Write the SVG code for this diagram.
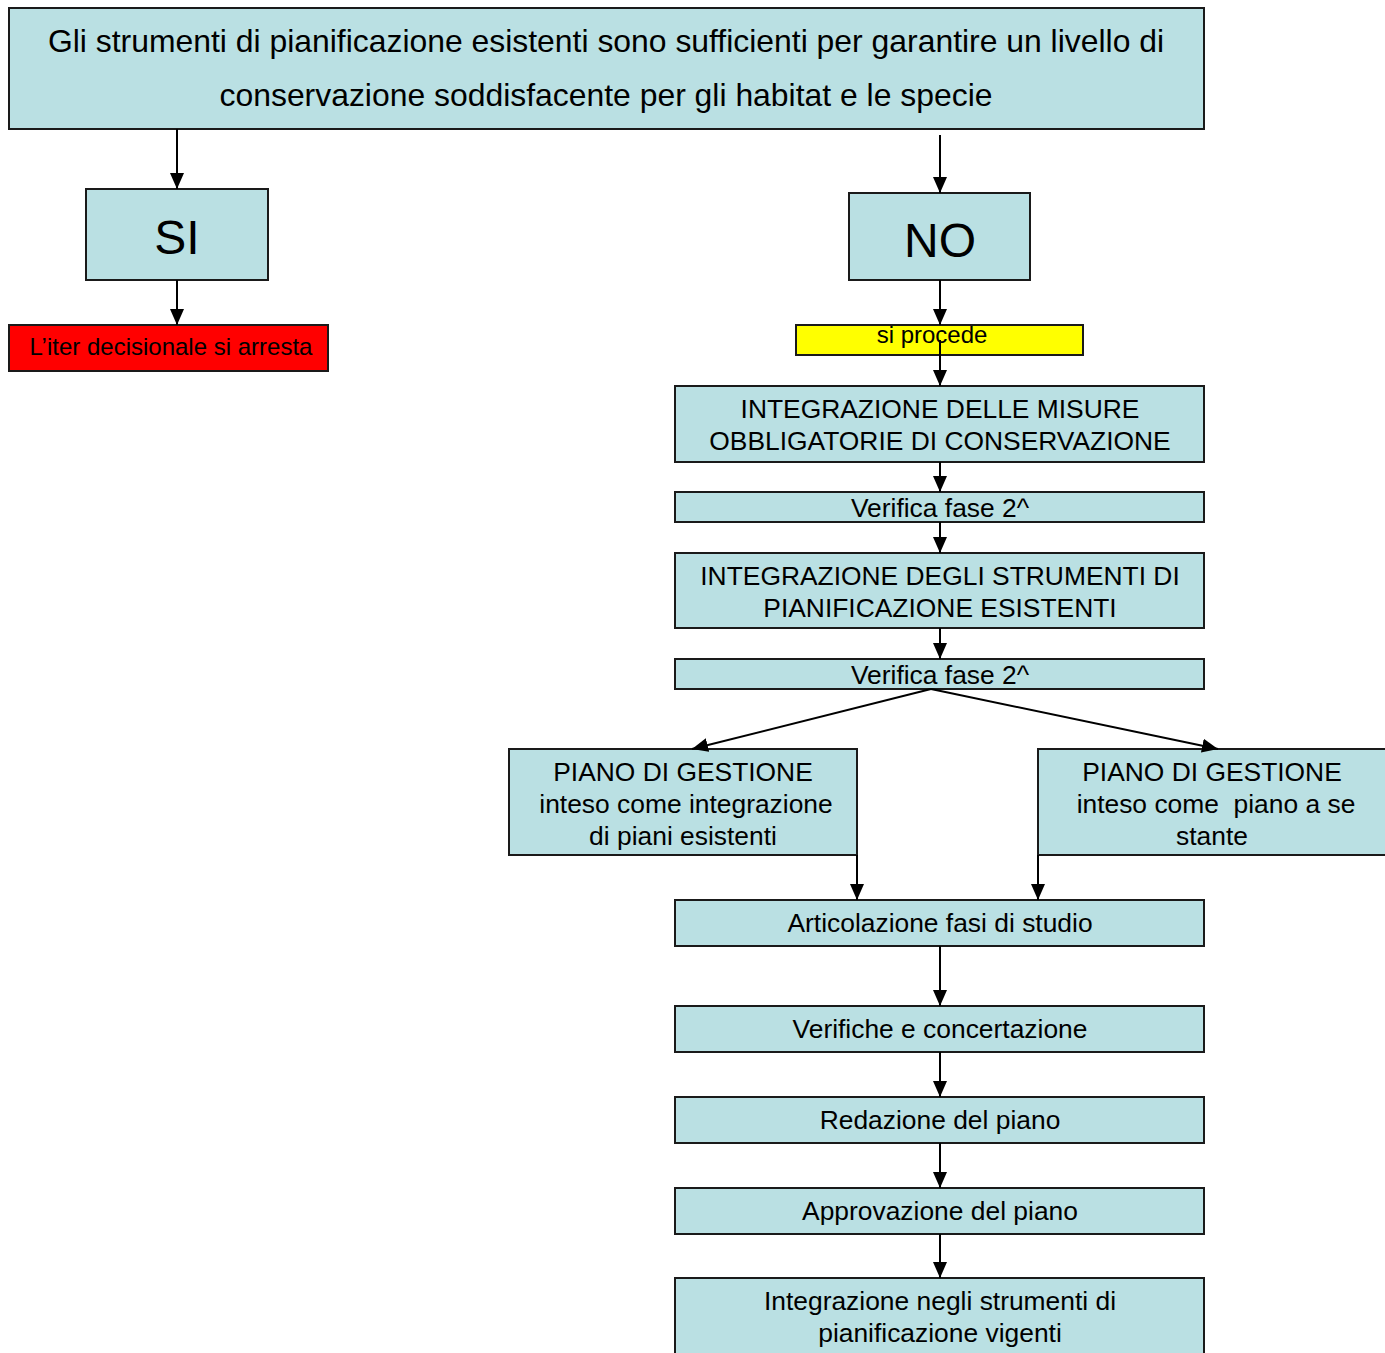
<svg xmlns="http://www.w3.org/2000/svg" width="1385" height="1353" viewBox="0 0 1385 1353">
<style>
.b{fill:#bae0e3;stroke:#1a1a1a;stroke-width:2}
.t{font-family:"Liberation Sans",Arial,sans-serif;fill:#000;text-anchor:middle;font-size:26.4px}
.c line{stroke:#000;stroke-width:2;marker-end:url(#ah)}
</style>
<defs>
<marker id="ah" markerUnits="userSpaceOnUse" markerWidth="16" markerHeight="16" viewBox="0 0 16 16" refX="16" refY="8" orient="auto">
<path d="M0,1 L16,8 L0,15 Z" fill="#000"/>
</marker>
</defs>
<rect width="1385" height="1353" fill="#fff"/>
<g id="top"><rect class="b" x="9" y="8" width="1195" height="121"/>
<text class="t" x="606" y="52" style="font-size:31.9px">Gli strumenti di pianificazione esistenti sono sufficienti per garantire un livello di</text>
<text class="t" x="606" y="106" style="font-size:31.9px">conservazione soddisfacente per gli habitat e le specie</text></g>
<g id="si"><rect class="b" x="86" y="189" width="182" height="91"/><text class="t" x="177" y="254" style="font-size:48px">SI</text></g>
<g id="stop"><rect x="9" y="325" width="319" height="46" fill="#ff0000" stroke="#1a1a1a" stroke-width="2"/><text class="t" x="171" y="355" style="font-size:24px">L’iter decisionale si arresta</text></g>
<g id="no"><rect class="b" x="849" y="193" width="181" height="87"/><text class="t" x="940" y="257" style="font-size:48px">NO</text></g>
<g id="procede"><rect x="796" y="325" width="287" height="30" fill="#ffff00" stroke="#1a1a1a" stroke-width="2"/><text class="t" x="932" y="343" style="font-size:24px">si procede</text></g>
<g id="misure"><rect class="b" x="675" y="386" width="529" height="76"/>
<text class="t" x="940" y="418">INTEGRAZIONE DELLE MISURE</text>
<text class="t" x="940" y="450">OBBLIGATORIE DI CONSERVAZIONE</text></g>
<g id="verifica1"><rect class="b" x="675" y="492" width="529" height="30"/><text class="t" x="940" y="517">Verifica fase 2^</text></g>
<g id="strumenti"><rect class="b" x="675" y="553" width="529" height="75"/>
<text class="t" x="940" y="585">INTEGRAZIONE DEGLI STRUMENTI DI</text>
<text class="t" x="940" y="617">PIANIFICAZIONE ESISTENTI</text></g>
<g id="verifica2"><rect class="b" x="675" y="659" width="529" height="30"/><text class="t" x="940" y="684">Verifica fase 2^</text></g>
<g id="pianoA"><rect class="b" x="509" y="749" width="348" height="106"/>
<text class="t" x="683" y="781">PIANO DI GESTIONE</text>
<text class="t" x="686" y="813">inteso come integrazione</text>
<text class="t" x="683" y="845">di piani esistenti</text></g>
<g id="pianoB"><rect class="b" x="1038" y="749" width="352" height="106"/>
<text class="t" x="1212" y="781">PIANO DI GESTIONE</text>
<text class="t" x="1216" y="813" xml:space="preserve">inteso come  piano a se</text>
<text class="t" x="1212" y="845">stante</text></g>
<g id="articolazione"><rect class="b" x="675" y="900" width="529" height="46"/><text class="t" x="940" y="932">Articolazione fasi di studio</text></g>
<g id="verifiche"><rect class="b" x="675" y="1006" width="529" height="46"/><text class="t" x="940" y="1038">Verifiche e concertazione</text></g>
<g id="redazione"><rect class="b" x="675" y="1097" width="529" height="46"/><text class="t" x="940" y="1129">Redazione del piano</text></g>
<g id="approvazione"><rect class="b" x="675" y="1188" width="529" height="46"/><text class="t" x="940" y="1220">Approvazione del piano</text></g>
<g id="integrazione"><rect class="b" x="675" y="1278" width="529" height="90"/>
<text class="t" x="940" y="1310">Integrazione negli strumenti di</text>
<text class="t" x="940" y="1342">pianificazione vigenti</text></g>
<g class="c" id="connectors">
<line x1="177" y1="129" x2="177" y2="189"/>
<line x1="177" y1="280" x2="177" y2="325"/>
<line x1="940" y1="135" x2="940" y2="193"/>
<line x1="940" y1="280" x2="940" y2="325"/>
<line x1="940" y1="340" x2="940" y2="386"/>
<line x1="940" y1="462" x2="940" y2="492"/>
<line x1="940" y1="522" x2="940" y2="553"/>
<line x1="940" y1="628" x2="940" y2="659"/>
<line x1="931" y1="689" x2="692" y2="749"/>
<line x1="931" y1="689" x2="1218" y2="749"/>
<line x1="857" y1="855" x2="857" y2="900"/>
<line x1="1038" y1="855" x2="1038" y2="900"/>
<line x1="940" y1="946" x2="940" y2="1006"/>
<line x1="940" y1="1052" x2="940" y2="1097"/>
<line x1="940" y1="1143" x2="940" y2="1188"/>
<line x1="940" y1="1234" x2="940" y2="1278"/>
</g>
</svg>
